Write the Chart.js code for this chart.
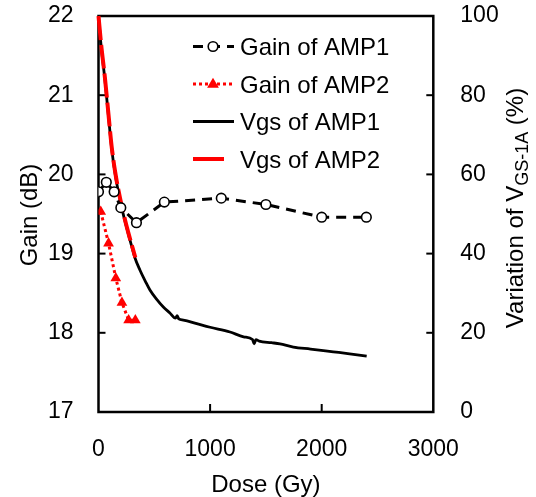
<!DOCTYPE html>
<html>
<head>
<meta charset="utf-8">
<script src="https://cdn.jsdelivr.net/npm/chart.js@4"></script>
<style>
  body { margin: 0; background: #fff; }
</style>
</head>
<body>
<canvas id="myChart" width="536" height="497"></canvas>
<script>
// gain (dB) at each dose step
const gainDose1 = [0, 70, 140, 200, 340, 590, 1100, 1500, 2000, 2400];
const gainAmp1 = [19.78, 19.9, 19.78, 19.58, 19.39, 19.65, 19.7, 19.62, 19.46, 19.46];
const gainDose2 = [20, 90, 155, 210, 270, 330];
const gainAmp2 = [19.53, 19.13, 18.69, 18.38, 18.16, 18.16];

// variation of Vgs-1A (%) vs dose
const vgsDose1 = [0, 25, 58, 90, 118, 150, 193, 230, 267, 300, 327, 372, 420, 461, 520, 581, 640, 690, 705, 720, 760, 880, 1000, 1178, 1300, 1380, 1395, 1410, 1440, 1550, 1626, 1746, 1900, 2104, 2250, 2403];
const vgsAmp1 = [100, 92, 83.8, 74.5, 66.5, 60, 53.5, 49, 45, 41.6, 38.9, 35.8, 33, 30.8, 28.5, 26.5, 25, 23.7, 24.3, 23.5, 23.2, 22.3, 21.4, 20.2, 19, 18.3, 17.2, 18.3, 17.9, 17.5, 17.2, 16.4, 15.9, 15.2, 14.7, 14.1];
const vgsDose2 = [0, 25, 58, 90, 118, 150, 193, 230, 267, 300, 330];
const vgsAmp2 = [100, 92.5, 84.3, 75, 67, 60.5, 54, 49.4, 45.3, 42, 39];

const seriesNames = ['Gain of AMP1', 'Gain of AMP2', 'Vgs of AMP1', 'Vgs of AMP2'];

const FONT = '"Liberation Sans", Arial, sans-serif';
Chart.defaults.font.family = FONT;
Chart.defaults.color = '#000';

function pts(xs, ys) {
    return xs.map((x, i) => ({ x: x, y: ys[i] }));
}

// no overhang padding, so the plot box lands where the reference has it
function noPad(s) {
    s.paddingTop = 0;
    s.paddingBottom = 0;
}

// frame, inward ticks, y titles and legend
const decor = {
    id: 'decor',
    beforeDatasetsDraw(chart) {
        const ctx = chart.ctx;
        const a = chart.chartArea;
        ctx.save();
        ctx.strokeStyle = '#000';
        ctx.lineWidth = 2.5;
        ctx.strokeRect(a.left, a.top, a.right - a.left, a.bottom - a.top);
        ctx.lineWidth = 2;
        const y = chart.scales.y, y1 = chart.scales.y1, x = chart.scales.x;
        y.ticks.forEach(t => {
            if (t.value <= y.min || t.value >= y.max) return;
            const p = y.getPixelForValue(t.value);
            ctx.beginPath(); ctx.moveTo(a.left, p); ctx.lineTo(a.left + 7, p); ctx.stroke();
        });
        y1.ticks.forEach(t => {
            if (t.value <= y1.min || t.value >= y1.max) return;
            const p = y1.getPixelForValue(t.value);
            ctx.beginPath(); ctx.moveTo(a.right, p); ctx.lineTo(a.right - 7, p); ctx.stroke();
        });
        x.ticks.forEach(t => {
            if (t.value <= x.min || t.value >= x.max) return;
            const p = x.getPixelForValue(t.value);
            ctx.beginPath(); ctx.moveTo(p, a.bottom); ctx.lineTo(p, a.bottom - 8); ctx.stroke();
        });
        ctx.restore();
    },
    afterDraw(chart) {
        const ctx = chart.ctx;
        ctx.save();
        ctx.fillStyle = '#000';
        ctx.textBaseline = 'alphabetic';

        // left title
        ctx.save();
        ctx.translate(29, 215);
        ctx.rotate(-Math.PI / 2);
        ctx.font = '24px ' + FONT;
        ctx.textAlign = 'center';
        ctx.fillText('Gain (dB)', 0, 8);
        ctx.restore();

        // right title with subscript
        ctx.save();
        ctx.translate(515, 208);
        ctx.rotate(-Math.PI / 2);
        const main = 'Variation of V', sub = 'GS-1A', tail = ' (%)';
        ctx.font = '24px ' + FONT;
        const w1 = ctx.measureText(main).width, w3 = ctx.measureText(tail).width;
        ctx.font = '18px ' + FONT;
        const w2 = ctx.measureText(sub).width;
        let x0 = -(w1 + w2 + w3) / 2;
        ctx.textAlign = 'left';
        ctx.font = '24px ' + FONT;
        ctx.fillText(main, x0, 8);
        ctx.font = '18px ' + FONT;
        ctx.fillText(sub, x0 + w1, 13);
        ctx.font = '24px ' + FONT;
        ctx.fillText(tail, x0 + w1 + w2, 8);
        ctx.restore();

        // legend
        chart.data.datasets.forEach((ds, i) => {
            const yy = 46.5 + i * 37.5;
            const dash = ds.borderDash || [];
            const longDash = dash.length && dash[0] > 20;
            ctx.save();
            ctx.strokeStyle = ds.borderColor;
            ctx.lineWidth = ds.borderWidth;
            ctx.setLineDash(longDash ? [] : dash);
            ctx.beginPath(); ctx.moveTo(193, yy); ctx.lineTo(longDash ? 224 : 234, yy); ctx.stroke();
            ctx.setLineDash([]);
            if (ds.pointStyle === 'circle' && ds.pointRadius > 0) {
                ctx.fillStyle = ds.pointBackgroundColor;
                ctx.lineWidth = ds.pointBorderWidth;
                ctx.strokeStyle = ds.pointBorderColor;
                ctx.beginPath(); ctx.arc(213, yy, ds.pointRadius, 0, Math.PI * 2); ctx.fill(); ctx.stroke();
            } else if (ds.pointStyle === 'triangle') {
                const r = ds.pointRadius;
                ctx.fillStyle = ds.pointBackgroundColor;
                ctx.beginPath();
                ctx.moveTo(213, yy - r);
                ctx.lineTo(213 + r * 0.95, yy + r * 0.6);
                ctx.lineTo(213 - r * 0.95, yy + r * 0.6);
                ctx.closePath(); ctx.fill();
            }
            ctx.restore();
            ctx.font = '24px ' + FONT;
            ctx.textAlign = 'left';
            ctx.fillText(ds.label, 240, yy + 8.5);
        });
        ctx.restore();
    }
};

var ctx = document.getElementById('myChart').getContext('2d');
var chart = new Chart(ctx, {
    type: 'line',
    data: {
        datasets: [{
            label: seriesNames[0],
            data: pts(gainDose1, gainAmp1),
            yAxisID: 'y',
            borderColor: '#000',
            borderWidth: 3,
            borderDash: [10, 7],
            pointStyle: 'circle',
            pointRadius: 4.8,
            pointBorderWidth: 1.6,
            pointBorderColor: '#000',
            pointBackgroundColor: '#fff',
            tension: 0,
            order: 0
        }, {
            label: seriesNames[1],
            data: pts(gainDose2, gainAmp2),
            yAxisID: 'y',
            borderColor: '#ff0000',
            borderWidth: 3,
            borderDash: [3, 3],
            pointStyle: 'triangle',
            pointRadius: 6.2,
            pointBorderWidth: 0,
            pointBorderColor: '#ff0000',
            pointBackgroundColor: '#ff0000',
            tension: 0,
            order: 1
        }, {
            label: seriesNames[2],
            data: pts(vgsDose1, vgsAmp1),
            yAxisID: 'y1',
            borderColor: '#000',
            borderWidth: 2.8,
            pointRadius: 0,
            cubicInterpolationMode: 'monotone',
            clip: 6,
            order: 3
        }, {
            label: seriesNames[3],
            data: pts(vgsDose2, vgsAmp2),
            yAxisID: 'y1',
            borderColor: '#ff0000',
            borderWidth: 4,
            borderDash: [24, 5],
            pointRadius: 0,
            cubicInterpolationMode: 'monotone',
            clip: 6,
            order: 2
        }]
    },
    options: {
        responsive: false,
        animation: false,
        layout: { padding: { top: 16, left: 0, right: 0, bottom: 0 } },
        plugins: { legend: { display: false }, tooltip: { enabled: false } },
        scales: {
            x: {
                type: 'linear',
                min: 0, max: 3000,
                ticks: { stepSize: 1000, font: { size: 23 }, padding: 24, maxRotation: 0, callback: (v) => String(v) },
                grid: { display: false, drawTicks: false },
                border: { display: false },
                title: { display: true, text: 'Dose (Gy)', font: { size: 24, lineHeight: 1 }, padding: { top: 0, bottom: 0 } },
                afterFit: (s) => { s.height = 85; s.paddingLeft = 0; s.paddingRight = 0; }
            },
            y: {
                position: 'left',
                min: 17, max: 22,
                ticks: { stepSize: 1, font: { size: 23 }, padding: 25 },
                grid: { display: false, drawTicks: false },
                border: { display: false },
                afterFit: (s) => { s.width = 98.5; noPad(s); }
            },
            y1: {
                position: 'right',
                min: 0, max: 100,
                ticks: { stepSize: 20, font: { size: 23 }, padding: 27 },
                grid: { display: false, drawTicks: false },
                border: { display: false },
                afterFit: (s) => { s.width = 102.7; noPad(s); }
            }
        }
    },
    plugins: [decor]
});
</script>
</body>
</html>
